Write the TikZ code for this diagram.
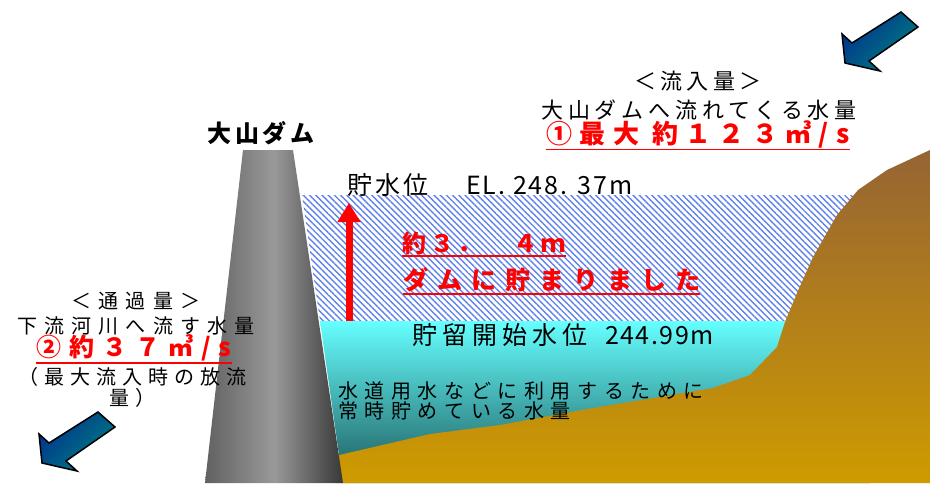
\documentclass[tikz,border=0pt]{standalone}
\usepackage{fontspec}
\usepackage{tikz}
\usetikzlibrary{arrows.meta}
\usetikzlibrary{patterns.meta}

\newfontfamily\jp{Noto Sans CJK JP}
% size, line skip, letter spacing
\newcommand\jpsize[3]{\fontsize{#1}{#2}\jp\addfontfeatures{LetterSpace=#3}}

\definecolor{hatchblue}{RGB}{95,130,235}
\definecolor{watertop}{RGB}{102,255,255}
\definecolor{waterbot}{RGB}{28,88,90}
\definecolor{hilltop}{RGB}{150,100,52}
\definecolor{hillbot}{RGB}{206,155,0}
\definecolor{arrowblue}{RGB}{0,50,140}
\definecolor{arrowteal}{RGB}{0,128,128}

\begin{document}
\begin{tikzpicture}[x=1pt,y=-1pt,
	txt/.style={inner sep=0pt,align=center},
	redtxt/.style={inner sep=0pt,align=center,text=red},
	uline/.style={red,line width=1.6pt},
	flowarrow/.style={draw=black,line width=1.5pt,top color=arrowblue,bottom color=arrowteal,shading angle=45}]
	\useasboundingbox (0,0) rectangle (930,483);
	
	% reservoir: flood band and normal pool
	\fill [pattern={Lines[angle=-45,distance=4.4pt,line width=1.4pt]},pattern color=hatchblue]
		(302,195) -- (870,195) -- (870,321) -- (320,321) -- cycle;
	\shade [top color=watertop,bottom color=waterbot]
		(320,321) -- (870,321) -- (870,483) -- (343,483) -- cycle;
	
	% valley floor and slope
	\shade [top color=hilltop,bottom color=hillbot]
		(335,456) -- (430,434) -- (500,425) -- (587,409) -- (713,388) -- (750,375) -- (777,347)
		-- (785,322) -- (797,293) -- (813,257) -- (837,215) -- (858,190) -- (887,170) -- (930,150)
		-- (930,483) -- (335,483) -- cycle;
	
	% dam body
	\shade [left color=black!62,right color=black!78,middle color=black!40]
		(243,150) -- (293,150) -- (343,483) -- (205,483) -- cycle;
	
	% storage rise
	\coordinate (risebase) at (349,321);
	\coordinate (risetop) at (349,203);
	\draw [red,line width=7pt,-{Triangle[width=22pt,length=19pt]}] (risebase) -- (risetop);
	
	% inflow / outflow arrows
	\foreach \tip in {(845,63),(42,463)} {
		\shade [flowarrow,shift={\tip}] (0,0) -- (-3,-29) -- (7,-20) -- (56,-51) -- (73,-36) -- (24,-2) -- (35,8) -- cycle;
	}
	
	\node [txt,font={\jpsize{22}{22}{20}}] (hdrin) at (698,81) {＜流入量＞};
	\node [txt,font={\jpsize{22}{22}{22}}] (inflowtxt) at (699,110) {大山ダムへ流れてくる水量};
	\node [redtxt,font={\bfseries\jpsize{26}{26}{28}}] (inflowval) at (698,134) {①最大 約１２３㎥/s};
	\draw [uline] ([yshift=-1.5pt]inflowval.south west) -- ([yshift=-1.5pt]inflowval.south east);
	
	\node [txt,font={\bfseries\jpsize{24}{24}{16}}] (damname) at (261,133) {大山ダム};
	
	\node [txt,anchor=west,font={\jpsize{25}{25}{12}}] (highlvl) at (347,185)
		{貯水位\hspace{38pt}\addfontfeatures{LetterSpace=8}EL. 248. 37m};
	
	\node [redtxt,anchor=west,font={\bfseries\jpsize{24}{24}{16}}] (risetxta) at (402,243) {約３．　４ｍ};
	\draw [uline] ([yshift=-1.5pt]risetxta.south west) -- ([yshift=-1.5pt]risetxta.south east);
	\node [redtxt,anchor=west,font={\bfseries\jpsize{25}{25}{36}}] (risetxtb) at (403,280) {ダムに貯まりました};
	\draw [uline] ([yshift=-1.5pt]risetxtb.south west) -- ([yshift=-1.5pt]risetxtb.south east);
	
	\node [txt,anchor=west,font={\jpsize{25}{25}{20}}] (startlvl) at (412,335)
		{貯留開始水位\hspace{18pt}\addfontfeatures{LetterSpace=6}244.99m};
	
	\node [txt,anchor=north west,align=left,font={\jpsize{20}{20}{33}}] (usetxt) at (338,381)
		{水道用水などに利用するために\\常時貯めている水量};
	
	\node [txt,font={\jpsize{20}{25}{36}}] (hdrout) at (136,314) {＜通過量＞\\下流河川へ流す水量};
	\node [redtxt,font={\bfseries\jpsize{25}{25}{32}}] (outflowval) at (134,348) {②約３７㎥/s};
	\draw [uline] ([yshift=-1.5pt]outflowval.south west) -- ([yshift=-1.5pt]outflowval.south east);
	\node [txt,font={\jpsize{20}{21}{30}}] (outnote) at (133,387) {（最大流入時の放流\\量）};
\end{tikzpicture}
\end{document}
